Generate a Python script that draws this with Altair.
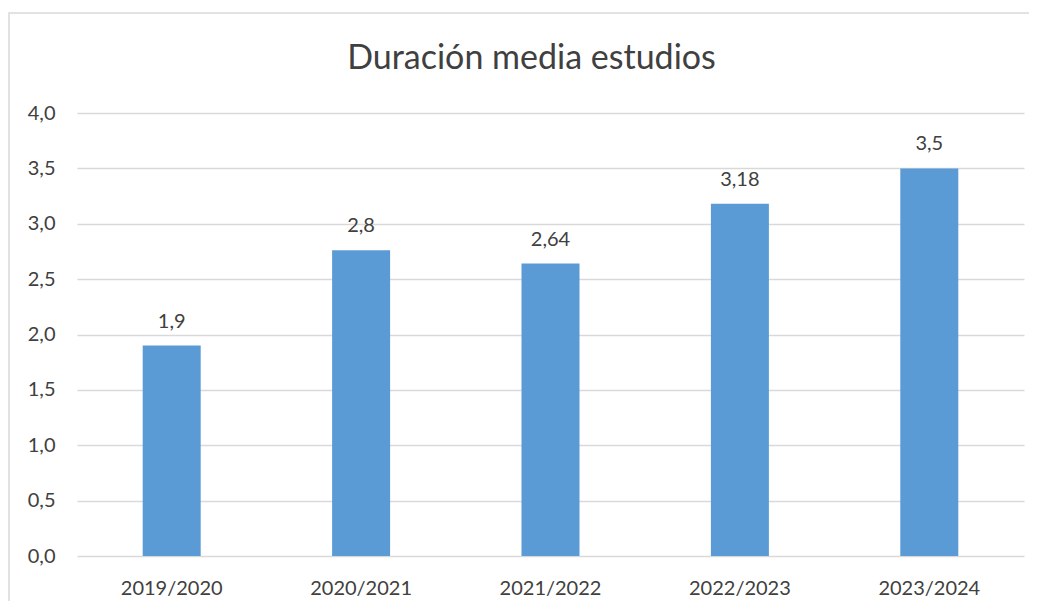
import altair as alt
import pandas as pd

years = ["2019/2020", "2020/2021", "2021/2022", "2022/2023", "2023/2024"]
values = [1.9, 2.76, 2.64, 3.18, 3.5]
labels = ["1,9", "2,8", "2,64", "3,18", "3,5"]

df = pd.DataFrame({"year": years, "value": values, "label": labels})
FONT = "Lato"
TXT = "#404040"

x = alt.X("year:N", sort=years, title=None,
          scale=alt.Scale(paddingInner=0, paddingOuter=0),
          axis=alt.Axis(labelAngle=0, ticks=False, domain=False, labelPadding=22,
                        labelFont=FONT, labelFontSize=20, labelColor=TXT))
y = alt.Y("value:Q", title=None,
          scale=alt.Scale(domain=[0, 4]),
          axis=alt.Axis(values=[0, 0.5, 1, 1.5, 2, 2.5, 3, 3.5, 4], ticks=False, domain=False,
                        labelPadding=22, labelFont=FONT, labelFontSize=20, labelColor=TXT,
                        labelExpr="replace(format(datum.value, '.1f'), '.', ',')",
                        gridColor="#D9D9D9", gridWidth=1.3))

frame = alt.Chart(pd.DataFrame({"k": [0]})).mark_rect(
    fill=None, stroke="#D9D9D9", strokeWidth=1.5, clip=False
).encode(x=alt.value(-68), x2=alt.value(990), y=alt.value(-100), y2=alt.value(530))

bars = alt.Chart(df).mark_bar(color="#5B9BD5", size=58).encode(x=x, y=y)
text = alt.Chart(df).mark_text(font=FONT, fontSize=20, color=TXT, baseline="alphabetic", dy=-18).encode(
    x=alt.X("year:N", sort=years), y="value:Q", text="label:N")

chart = alt.layer(frame, bars, text).properties(
    width=947, height=443,
    title=alt.TitleParams("Duración media estudios", font=FONT, fontSize=34, fontWeight="normal",
                          color=TXT, anchor="middle", offset=-64, dx=-19),
    autosize=alt.AutoSizeParams(type="none"),
    padding={"left": 69, "top": 105, "right": 5, "bottom": 45},
).configure_view(stroke=None)

chart.save("out.html", embed_options={"renderer": "svg", "actions": False})
